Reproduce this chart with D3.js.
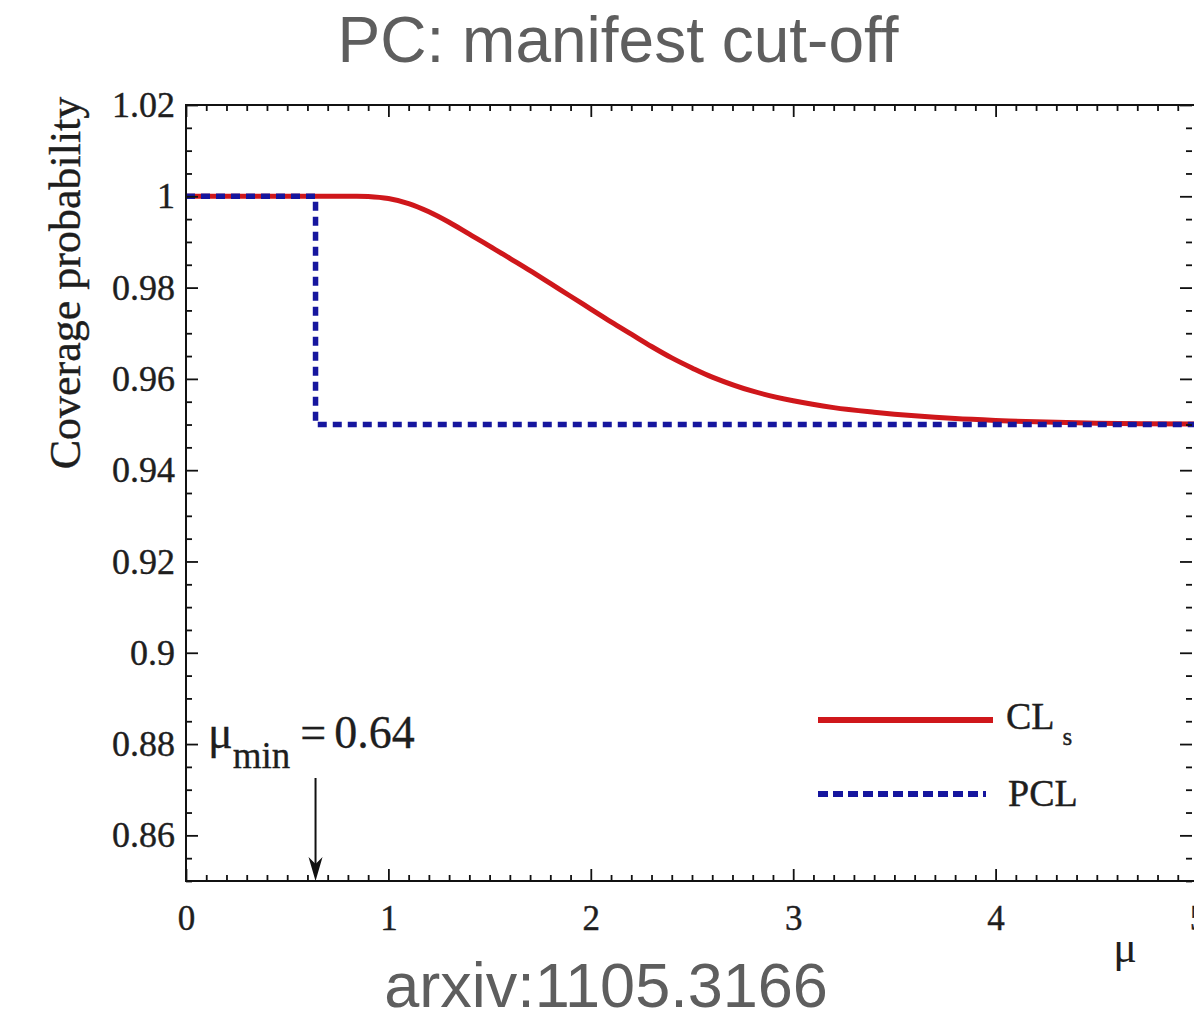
<!DOCTYPE html>
<html><head><meta charset="utf-8">
<script src="https://cdn.jsdelivr.net/npm/d3@7"></script>
<style>
html,body{margin:0;padding:0;background:#fff;}
svg{display:block;}
</style></head>
<body>
<svg id="chart" width="1194" height="1017"></svg>
<script>
// ---- data ----
const muCLs = [0, 0.5, 0.8, 0.9, 1.0, 1.1, 1.2, 1.3, 1.4, 1.5, 1.6, 1.7, 1.8, 1.9, 2.0, 2.1, 2.2, 2.3, 2.4, 2.5, 2.6, 2.8, 3.0, 3.2, 3.4, 3.6, 3.8, 4.0, 4.2, 4.5, 5.0];
const cls   = [1, 1, 1, 0.99995, 0.9995, 0.9984, 0.9966, 0.9943, 0.9917, 0.9891, 0.9864, 0.9837, 0.9809, 0.9781, 0.9753, 0.9725, 0.9698, 0.9671, 0.9646, 0.9624, 0.9604, 0.9573, 0.9552, 0.9537, 0.9527, 0.9519, 0.9513, 0.9509, 0.9506, 0.9503, 0.9501];
const muPCL = [0, 0.64, 0.64, 5];
const pcl   = [1, 1, 0.95, 0.95];
const muMin = 0.64;
const xTickValues = [0, 1, 2, 3, 4, 5];
const xTickLabels = ["0", "1", "2", "3", "4", "5"];
const yTickValues = [0.86, 0.88, 0.90, 0.92, 0.94, 0.96, 0.98, 1.00, 1.02];
const yTickLabels = ["0.86", "0.88", "0.9", "0.92", "0.94", "0.96", "0.98", "1", "1.02"];
const seriesNames = ["CL", "PCL"];

// ---- layout ----
const svg = d3.select("#chart");
const L = 186, R = 1198, T = 105, B = 881;
const x = d3.scaleLinear().domain([0, 5]).range([L, R]);
const y = d3.scaleLinear().domain([0.85, 1.02]).range([B, T]);
const serif = "'Liberation Serif','Times New Roman',serif";
const sans = "'Liberation Sans',Helvetica,Arial,sans-serif";
const RED = "#cf171b", BLUE = "#16169e", GRAY = "#5e5e5e", INK = "#1e1e1e";

// title
svg.append("text").attr("x", 618).attr("y", 62).attr("text-anchor", "middle")
  .attr("font-family", sans).attr("font-size", 64).attr("fill", GRAY)
  .text("PC: manifest cut-off");
svg.append("text").attr("x", 606).attr("y", 1007).attr("text-anchor", "middle")
  .attr("font-family", sans).attr("font-size", 63).attr("fill", GRAY)
  .text("arxiv:1105.3166");

const minorX = d3.range(0, 50.001, 1).map(d => d / 10).filter(d => !xTickValues.includes(d));
const minorY = d3.range(170, 204.001, 1).map(d => d / 200).filter(d => !yTickValues.some(v => Math.abs(v - d) < 1e-9));

// curves (clipped)
svg.append("clipPath").attr("id", "clip").append("rect")
  .attr("x", L).attr("y", T - 5).attr("width", R - L).attr("height", B - T + 5);
const g = svg.append("g").attr("clip-path", "url(#clip)");
const lineCLs = d3.line().x((d, i) => x(muCLs[i])).y(d => y(d)).curve(d3.curveCatmullRom.alpha(0.5));
g.append("path").attr("d", lineCLs(cls)).attr("fill", "none")
  .attr("stroke", RED).attr("stroke-width", 5);
const linePCL = d3.line().x((d, i) => x(muPCL[i])).y(d => y(d));
g.append("path").attr("d", linePCL(pcl)).attr("fill", "none")
  .attr("stroke", BLUE).attr("stroke-width", 5.5).attr("stroke-dasharray", "9,6");

// axes
function styleAxis(sel) {
  sel.selectAll(".domain").remove();
  sel.selectAll(".tick line").attr("stroke", "#111").attr("stroke-width", 1.8);
  sel.selectAll(".tick text").attr("font-family", serif).attr("fill", INK)
    .attr("stroke", INK).attr("stroke-width", 0.4);
}
const gx = svg.append("g").attr("transform", `translate(0,${B})`)
  .call(d3.axisBottom(x).tickValues(xTickValues).tickFormat((d, i) => xTickLabels[i]).tickSize(-12).tickPadding(24));
styleAxis(gx); gx.selectAll(".tick text").attr("font-size", 35);
const gxm = svg.append("g").attr("transform", `translate(0,${B})`)
  .call(d3.axisBottom(x).tickValues(minorX).tickFormat("").tickSize(-6));
styleAxis(gxm);
const gxt = svg.append("g").attr("transform", `translate(0,${T})`)
  .call(d3.axisTop(x).tickValues(xTickValues).tickFormat("").tickSize(-12));
styleAxis(gxt);
const gxtm = svg.append("g").attr("transform", `translate(0,${T})`)
  .call(d3.axisTop(x).tickValues(minorX).tickFormat("").tickSize(-6));
styleAxis(gxtm);

const gy = svg.append("g").attr("transform", `translate(${L},0)`)
  .call(d3.axisLeft(y).tickValues(yTickValues).tickFormat((d, i) => yTickLabels[i]).tickSize(-12).tickPadding(11));
styleAxis(gy); gy.selectAll(".tick text").attr("font-size", 36);
const gym = svg.append("g").attr("transform", `translate(${L},0)`)
  .call(d3.axisLeft(y).tickValues(minorY).tickFormat("").tickSize(-6));
styleAxis(gym);
const gyr = svg.append("g").attr("transform", `translate(${R - 6},0)`)
  .call(d3.axisRight(y).tickValues(yTickValues).tickFormat("").tickSize(-12));
styleAxis(gyr);
const gyrm = svg.append("g").attr("transform", `translate(${R - 6},0)`)
  .call(d3.axisRight(y).tickValues(minorY).tickFormat("").tickSize(-6));
styleAxis(gyrm);

// frame
svg.append("rect").attr("x", L).attr("y", T).attr("width", R - L).attr("height", B - T)
  .attr("fill", "none").attr("stroke", "#111").attr("stroke-width", 2);

// axis labels
svg.append("text").attr("transform", "translate(80,283) rotate(-90)").attr("text-anchor", "middle")
  .attr("font-family", serif).attr("font-size", 44).attr("fill", INK)
  .attr("stroke", INK).attr("stroke-width", 0.4)
  .text("Coverage probability");
svg.append("text").attr("x", 1125).attr("y", 962).attr("text-anchor", "middle")
  .attr("font-family", serif).attr("font-size", 44).attr("fill", INK).text("μ");

// legend
svg.append("line").attr("x1", 818).attr("x2", 993).attr("y1", 720).attr("y2", 720)
  .attr("stroke", RED).attr("stroke-width", 6);
svg.append("line").attr("x1", 818).attr("x2", 986).attr("y1", 794).attr("y2", 794)
  .attr("stroke", BLUE).attr("stroke-width", 6).attr("stroke-dasharray", "10,5");
const lt1 = svg.append("text").attr("x", 1006).attr("y", 729)
  .attr("font-family", serif).attr("font-size", 38).attr("fill", INK)
  .attr("stroke", INK).attr("stroke-width", 0.4);
lt1.append("tspan").text(seriesNames[0]);
lt1.append("tspan").attr("font-size", 25).attr("dx", 8).attr("dy", 16).text("s");
svg.append("text").attr("x", 1008).attr("y", 806)
  .attr("font-family", serif).attr("font-size", 38).attr("fill", INK)
  .attr("stroke", INK).attr("stroke-width", 0.4).text(seriesNames[1]);

// annotation
const ann = svg.append("text").attr("x", 208).attr("y", 748)
  .attr("font-family", serif).attr("font-size", 46).attr("fill", INK)
  .attr("stroke", INK).attr("stroke-width", 0.3);
ann.append("tspan").text("μ");
ann.append("tspan").attr("font-size", 37).attr("dy", 20).attr("dx", 0).text("min");
ann.append("tspan").attr("dy", -20).attr("dx", 10).text("=");
ann.append("tspan").attr("dx", 8).text("0.64");

svg.append("line").attr("x1", x(muMin)).attr("x2", x(muMin)).attr("y1", 778).attr("y2", B - 12)
  .attr("stroke", "#111").attr("stroke-width", 2);
svg.append("path")
  .attr("d", `M${x(muMin)},${B} L${x(muMin) - 7},${B - 24} L${x(muMin)},${B - 17} L${x(muMin) + 7},${B - 24} Z`)
  .attr("fill", "#111");
</script>
</body></html>
